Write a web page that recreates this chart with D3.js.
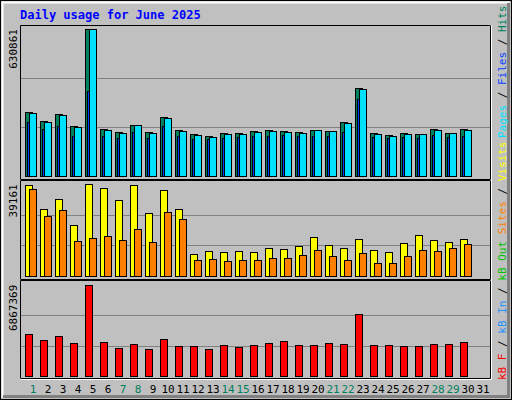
<!DOCTYPE html>
<html><head><meta charset="utf-8">
<script src="https://cdn.jsdelivr.net/npm/d3@7"></script>
<style>body{margin:0;background:#fff}text{font-family:"DejaVu Sans Mono",monospace}</style>
</head><body><svg id="c" width="512" height="400"></svg>
<script>
const days = d3.range(1, 31);
const dayLabels = d3.range(1, 32).map(String);
const weekendDays = [1, 7, 8, 14, 15, 21, 22, 28, 29];
const hits = [273400, 234700, 266100, 213300, 630861, 200400, 187500, 217600, 187500, 251900, 196100, 179000, 170400, 183300, 183300, 191800, 196100, 191800, 187500, 196100, 191800, 230500, 376400, 183300, 174700, 183300, 179000, 200400, 183300, 200400];
const files = [269100, 230500, 261800, 209000, 628900, 196200, 183300, 217300, 183200, 247600, 191800, 174700, 166100, 179000, 179000, 187500, 191800, 187500, 183300, 195900, 191600, 226200, 372100, 179000, 170400, 179000, 178800, 196100, 183100, 196100];
const pages = [230500, 200400, 213300, 170400, 363500, 170400, 161800, 187500, 161800, 213300, 170400, 157500, 157500, 161800, 166100, 170400, 170400, 174700, 170400, 170400, 170400, 187500, 329200, 166100, 161800, 166100, 161800, 174700, 166100, 170400];
const visits = [38730, 28480, 32750, 21650, 39161, 37450, 32320, 38730, 26770, 36590, 28480, 9270, 10550, 10120, 10550, 10120, 11830, 11400, 12680, 16520, 13110, 11830, 15670, 10970, 10120, 13960, 17380, 15240, 14390, 15670];
const sites = [37020, 25490, 28050, 14820, 16100, 16950, 15240, 19940, 14390, 27200, 24210, 6700, 7130, 6280, 6700, 6700, 7560, 7560, 8840, 10970, 8410, 6700, 9690, 5420, 5420, 8410, 10970, 10550, 11830, 13540];
const kbytes = [3181700, 2730400, 3031200, 2504700, 6867369, 2580000, 2128600, 2429500, 2053400, 2805600, 2279100, 2279100, 2053400, 2354300, 2203900, 2354300, 2504700, 2655200, 2354300, 2354300, 2504700, 2429500, 4686000, 2354300, 2354300, 2279100, 2279100, 2429500, 2429500, 2580000];

const svg = d3.select('#c');
// frame with bevel
svg.append('rect').attr('x', 0.5).attr('y', 0.5).attr('width', 511).attr('height', 399).attr('fill', '#c0c0c0').attr('stroke', '#000');
svg.append('path').attr('d', 'M2.5,397.5V2.5H509.5').attr('fill', 'none').attr('stroke', '#fff').attr('stroke-width', 2);
svg.append('path').attr('d', 'M3,396.5H508.5V3').attr('fill', 'none').attr('stroke', '#808080').attr('stroke-width', 3);

svg.append('text').attr('x', 20).attr('y', 19).attr('fill', '#0000ff').attr('font-weight', 'bold').attr('font-size', 12).text('Daily usage for June 2025');

const x = d3.scaleLinear().domain([1, 32]).range([25, 490]);
const panels = [
  {top: 25, bot: 180, base: 176, maxTop: 29, max: d3.max(hits)},
  {top: 180, bot: 280, base: 276, maxTop: 184.3, max: d3.max(visits)},
  {top: 280, bot: 379, base: 376, maxTop: 284.7, max: d3.max(kbytes)}
];
panels.forEach(p => {
  p.y = d3.scaleLinear().domain([0, p.max]).range([p.base, p.maxTop]);
  const g = svg.append('g');
  [1 / 3, 2 / 3].forEach(f => g.append('line').attr('x1', 21).attr('x2', 490).attr('y1', Math.round(p.y(p.max * f)) + 0.5).attr('y2', Math.round(p.y(p.max * f)) + 0.5).attr('stroke', '#808080'));
  g.append('path').attr('d', `M20.5,${p.bot - 0.5}V${p.top + 0.5}H490.5`).attr('fill', 'none').attr('stroke', '#000');
  g.append('path').attr('d', `M20.5,${p.bot + 0.5}H491.5V${p.top + 0.5}`).attr('fill', 'none').attr('stroke', '#fff');
  g.append('path').attr('d', `M21,${p.bot - 0.5}H490.5V${p.top + 1}`).attr('fill', 'none').attr('stroke', '#000');
  svg.append('text').attr('transform', `translate(17,${p.maxTop}) rotate(-90)`).attr('text-anchor', 'end').attr('font-size', 11).attr('fill', '#000').text(d3.format('d')(p.max));
});

function bars(series, p, dx, w, color) {
  svg.append('g').selectAll('rect').data(series).join('rect')
    .attr('x', (d, i) => x(days[i]) + dx + 0.5).attr('width', w)
    .attr('y', d => Math.round(p.y(d)) + 0.5).attr('height', d => p.base - Math.round(p.y(d)))
    .attr('fill', color).attr('stroke', '#000');
}
bars(hits, panels[0], 0, 7, '#00805c');
bars(pages, panels[0], 2, 3, '#0040ff');
bars(files, panels[0], 4, 7, '#00e0ff');
bars(visits, panels[1], 0, 7, '#ffff00');
bars(sites, panels[1], 4, 7, '#ff8000');
bars(kbytes, panels[2], 0, 7, '#ff0000');

svg.append('g').selectAll('text').data(dayLabels).join('text')
  .attr('x', (d, i) => x(i + 1) + 8).attr('y', 393).attr('text-anchor', 'middle').attr('font-size', 11)
  .attr('fill', d => weekendDays.includes(+d) ? '#00805c' : '#000').text(d => d);

function sideLabel(y, parts) {
  const t = svg.append('text').attr('transform', `translate(506,${y}) rotate(-90)`).attr('font-size', 11);
  parts.forEach(([s, c]) => t.append('tspan').attr('fill', c).text(s));
}
sideLabel(138, [['Pages', '#00e0ff'], [' / ', '#000'], ['Files', '#0040ff'], [' / ', '#000'], ['Hits', '#00805c']]);
sideLabel(380, [['kB F', '#ff0000'], [' / ', '#000'], ['kB In', '#1e90ff'], [' / ', '#000'], ['kB Out', '#00c000'], [' ', '#000'], ['Sites', '#ff8000'], [' / ', '#000'], ['Visits', '#ffff00']]);
</script></body></html>
